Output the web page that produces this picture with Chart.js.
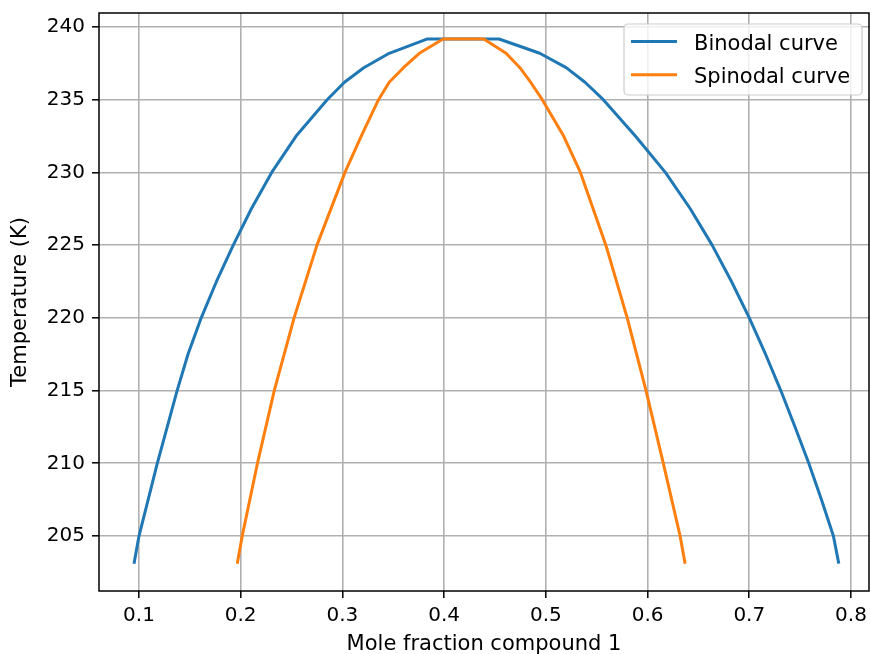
<!DOCTYPE html>
<html>
<head>
<meta charset="utf-8">
<script src="https://cdn.jsdelivr.net/npm/chart.js@4"></script>
<style>
  html, body { margin: 0; padding: 0; background: #fff; }
  canvas { display: block; }
</style>
</head>
<body>
<canvas id="phase" width="870" height="654"></canvas>
<script>
// values (left branch, top, right branch)
const binodalX = [0.0951, 0.1000, 0.1180, 0.1375, 0.1482, 0.1612, 0.1762, 0.1927, 0.2105,
  0.2305, 0.2545, 0.2850, 0.3020, 0.3210, 0.3460, 0.3830,
  0.4540, 0.4940, 0.5200, 0.5385, 0.5565, 0.5880, 0.6175, 0.6420, 0.6635, 0.6825, 0.7000,
  0.7160, 0.7310, 0.7450, 0.7585, 0.7710, 0.7827, 0.7880];
const binodalT = [203.1, 205.0, 210.0, 215.0, 217.5, 220.0, 222.5, 225.0, 227.5,
  230.0, 232.5, 235.0, 236.2, 237.2, 238.19, 239.17,
  239.17, 238.19, 237.2, 236.2, 235.0, 232.5, 230.0, 227.5, 225.0, 222.5, 220.0,
  217.5, 215.0, 212.5, 210.0, 207.5, 205.0, 203.1];

const spinodalX = [0.1966, 0.2015, 0.2165, 0.2330, 0.2525, 0.2750, 0.3025, 0.3185, 0.3355,
  0.3460, 0.3600, 0.3756, 0.3990,
  0.4390, 0.4609, 0.4745, 0.4850, 0.4965, 0.5175, 0.5340, 0.5590, 0.5800, 0.5985,
  0.6155, 0.6320, 0.6369];
const spinodalT = [203.1, 205.0, 210.0, 215.0, 220.0, 225.0, 230.0, 232.5, 235.0,
  236.2, 237.2, 238.19, 239.17,
  239.17, 238.19, 237.2, 236.2, 235.0, 232.5, 230.0, 225.0, 220.0, 215.0,
  210.0, 205.0, 203.1];

const xTicks = [0.1, 0.2, 0.3, 0.4, 0.5, 0.6, 0.7, 0.8];
const yTicks = [205, 210, 215, 220, 225, 230, 235, 240];
const xRange = [0.0607, 0.8177];
const yRange = [201.22, 240.96];

const FONT = "'DejaVu Sans', 'Liberation Sans', sans-serif";

function toPoints(xs, ys) {
  return xs.map((x, i) => ({ x: x, y: ys[i] }));
}

// matplotlib-like frame and legend
const framePlugin = {
  id: 'frame',
  afterDraw(chart) {
    const ctx = chart.ctx;
    const a = chart.chartArea;
    ctx.save();
    ctx.strokeStyle = '#000';
    ctx.lineWidth = 1.5;
    ctx.strokeRect(a.left, a.top, a.right - a.left, a.bottom - a.top);

    // legend box, upper right
    const boxW = 238, boxH = 71, r = 4;
    const bx = a.right - 7 - boxW, by = a.top + 11;
    ctx.beginPath();
    ctx.moveTo(bx + r, by);
    ctx.arcTo(bx + boxW, by, bx + boxW, by + boxH, r);
    ctx.arcTo(bx + boxW, by + boxH, bx, by + boxH, r);
    ctx.arcTo(bx, by + boxH, bx, by, r);
    ctx.arcTo(bx, by, bx + boxW, by, r);
    ctx.closePath();
    ctx.fillStyle = 'rgba(255,255,255,0.8)';
    ctx.fill();
    ctx.strokeStyle = '#cccccc';
    ctx.lineWidth = 1.2;
    ctx.stroke();

    ctx.font = '21px ' + FONT;
    ctx.textBaseline = 'alphabetic';
    ctx.textAlign = 'left';
    const entries = [chart.data.datasets[1], chart.data.datasets[0]];
    entries.forEach((ds, i) => {
      const cy = by + 17.5 + i * 33.3;
      ctx.strokeStyle = ds.borderColor;
      ctx.lineWidth = 3;
      ctx.beginPath();
      ctx.moveTo(bx + 7, cy);
      ctx.lineTo(bx + 53, cy);
      ctx.stroke();
      ctx.fillStyle = '#000';
      ctx.fillText(ds.label, bx + 70, cy + 8.3);
    });
    ctx.restore();
  }
};

new Chart(document.getElementById('phase'), {
  type: 'line',
  data: {
    datasets: [
      {
        label: 'Spinodal curve',
        data: toPoints(spinodalX, spinodalT),
        borderColor: '#ff7f0e',
        borderWidth: 3,
        pointRadius: 0,
        tension: 0,
        fill: false,
        borderJoinStyle: 'round',
        order: 0
      },
      {
        label: 'Binodal curve',
        data: toPoints(binodalX, binodalT),
        borderColor: '#1f77b4',
        borderWidth: 3,
        pointRadius: 0,
        tension: 0,
        fill: false,
        borderJoinStyle: 'round',
        order: 1
      }
    ]
  },
  options: {
    responsive: false,
    animation: false,
    devicePixelRatio: 1,
    layout: { padding: { top: 13, right: 1, left: 0, bottom: 0 } },
    plugins: {
      legend: { display: false },
      tooltip: { enabled: false }
    },
    scales: {
      x: {
        type: 'linear',
        min: xRange[0],
        max: xRange[1],
        afterBuildTicks: (scale) => { scale.ticks = xTicks.map(v => ({ value: v })); },
        afterFit: (scale) => {
          scale.height = 63;
          scale.paddingLeft = 0;
          scale.paddingRight = 0;
        },
        grid: { color: '#b0b0b0', lineWidth: 1.6, tickColor: '#000', tickLength: 7, tickWidth: 1.5 },
        border: { display: false },
        ticks: {
          color: '#000',
          padding: 6,
          maxRotation: 0,
          font: { family: FONT, size: 20 },
          callback: (v) => v.toFixed(1)
        },
        title: {
          display: true,
          text: 'Mole fraction compound 1',
          color: '#000',
          padding: { top: 0, bottom: -3 },
          font: { family: FONT, size: 21, lineHeight: 1.2 }
        }
      },
      y: {
        type: 'linear',
        min: yRange[0],
        max: yRange[1],
        afterBuildTicks: (scale) => { scale.ticks = yTicks.map(v => ({ value: v })); },
        afterFit: (scale) => {
          scale.width = 99;
          scale.paddingTop = 0;
          scale.paddingBottom = 0;
        },
        grid: { color: '#b0b0b0', lineWidth: 1.6, tickColor: '#000', tickLength: 7, tickWidth: 1.5 },
        border: { display: false },
        ticks: {
          color: '#000',
          padding: 7,
          font: { family: FONT, size: 20 },
          callback: (v) => String(v)
        },
        title: {
          display: true,
          text: 'Temperature (K)',
          color: '#000',
          padding: { top: 8, bottom: 0 },
          font: { family: FONT, size: 21, lineHeight: 1.2 }
        }
      }
    }
  },
  plugins: [framePlugin]
});
</script>
</body>
</html>
